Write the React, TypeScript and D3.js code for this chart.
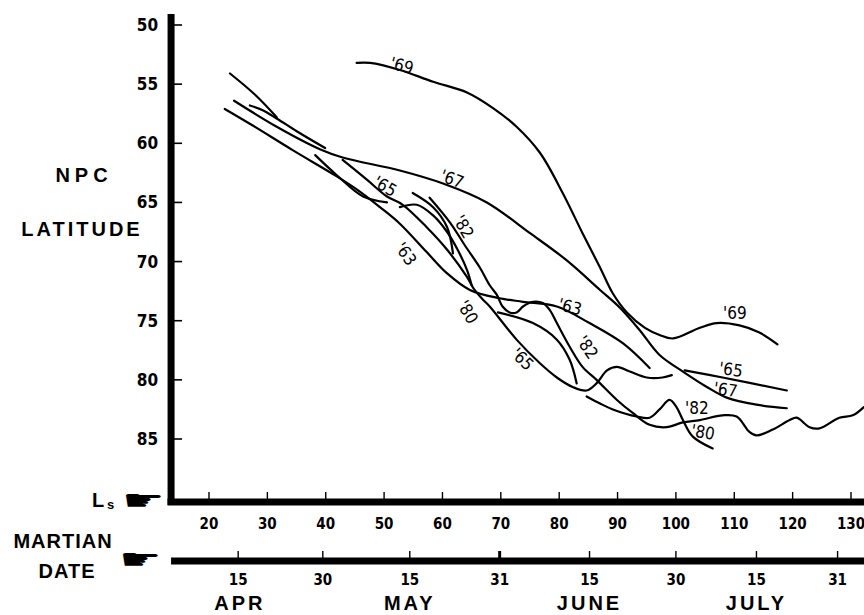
import React from "react";
import * as d3 from "d3";

// ---- axis data ----
const LAT_TICKS = [50, 55, 60, 65, 70, 75, 80, 85];
const LS_TICKS = [20, 30, 40, 50, 60, 70, 80, 90, 100, 110, 120, 130];
const DATE_LABELS = ["15", "30", "15", "31", "15", "30", "15", "31"];
const DATE_LS = [25.0, 39.5, 54.4, 69.8, 85.2, 100.0, 113.8, 127.7];
const MONTHS = ["APR", "MAY", "JUNE", "JULY"];
const MONTH_LS = [25.3, 54.4, 85.2, 113.8];

// ---- curves: [Ls, NPC latitude] ----
const Y69 = [[45.3,53.2],[47.6,53.2],[52.7,53.8],[58.4,54.8],[64.2,55.7],[68.6,57.0],[72.7,58.6],[76.7,60.8],[80.6,64.2],[84.0,67.6],[87.0,70.5],[89.2,72.7],[91.6,74.3],[94.7,75.6],[97.2,76.2],[99.5,76.5],[104.1,75.6],[107.0,75.2],[110.9,75.4],[114.3,76.0],[117.4,77.0]];
const Y67 = [[24.3,56.4],[31.6,58.6],[39.0,60.5],[42.9,61.2],[52.7,62.3],[60.1,63.4],[67.6,65.0],[75.0,67.6],[81.3,69.9],[87.0,72.4],[90.4,73.9],[93.8,75.8],[97.2,77.9],[101.2,79.3],[105.3,80.6],[108.7,81.5],[113.8,82.1],[119.0,82.4]];
const Y65_A = [[42.9,61.4],[47.1,63.1],[50.5,64.5],[53.2,65.2],[57.3,67.1],[60.8,69.0],[64.2,71.3],[65.5,72.4],[66.9,73.2],[68.1,73.8],[72.7,76.6],[76.7,78.6],[79.6,79.8],[82.3,80.6],[84.7,80.9],[86.4,80.3],[88.2,79.2],[89.9,78.9],[92.1,79.3],[95.0,79.8],[97.7,79.8],[99.3,79.6]];
const Y65_B = [[101.5,79.2],[108.0,79.8],[119.0,80.9]];
const Y63 = [[22.7,57.1],[27.5,58.5],[34.4,60.6],[41.9,62.8],[45.9,64.1],[49.3,65.4],[52.7,66.8],[57.3,69.2],[60.8,71.0],[64.7,72.4],[69.8,73.1],[73.8,73.4],[79.6,73.8],[85.2,75.2],[90.9,76.9],[95.5,79.0]];
const Y82 = [[57.8,64.6],[61.3,66.7],[63.8,68.6],[66.4,70.5],[68.1,72.0],[69.3,72.8],[70.3,73.8],[71.5,74.3],[72.7,74.3],[73.8,73.8],[75.5,73.4],[77.2,73.5],[78.4,74.1],[79.6,75.2],[81.8,77.2],[84.0,78.9],[86.4,80.0],[89.9,81.7],[92.6,82.8],[95.5,83.8],[98.4,84.0],[101.2,83.6],[104.1,83.4],[108.0,83.0],[110.4,83.1],[112.6,84.4],[113.8,84.7],[116.6,84.2],[119.5,83.4],[120.7,83.2],[122.9,84.0],[124.6,84.1],[128.0,83.2],[130.3,83.0],[132.2,82.3]];
const Y80_A = [[52.7,65.4],[55.6,65.2],[58.4,66.1],[60.8,67.5],[62.6,69.0],[64.2,70.7],[65.0,72.0]];
const Y80_B = [[69.5,74.3],[75.5,75.2],[79.6,76.6],[81.8,78.3],[83.0,80.3]];
const Y80_C = [[84.7,81.4],[87.0,82.0],[89.2,82.5],[93.3,83.1],[95.5,83.2],[97.2,82.5],[98.9,81.7],[100.1,82.3],[101.2,83.4],[102.9,84.8],[106.3,85.8]];
const SEG_UL1 = [[23.6,54.1],[27.9,55.9],[31.6,57.8]];
const SEG_UL2 = [[27.0,56.8],[29.2,57.2],[31.6,57.9],[35.1,59.0],[39.9,60.4]];
const SEG_MID = [[38.2,61.0],[41.9,62.7],[46.4,64.5],[50.5,65.0]];
const SEG_ARC = [[54.9,64.2],[58.4,65.4],[60.8,67.1],[61.8,69.3]];

const CURVES = [Y69, Y67, Y65_A, Y65_B, Y63, Y82, Y80_A, Y80_B, Y80_C, SEG_UL1, SEG_UL2, SEG_MID, SEG_ARC];

// labels: text, Ls, lat, rotation
const LABEL_TEXT = ["'69", "'67", "'65", "'82", "'63", "'80", "'63", "'65", "'82", "'69", "'65", "'67", "'82", "'80"];
const LABEL_LS = [53.0, 61.6, 50.1, 63.5, 53.6, 64.2, 81.8, 73.6, 84.7, 110.1, 109.4, 108.5, 103.6, 104.6];
const LABEL_LAT = [53.5, 63.1, 63.7, 67.1, 69.4, 74.3, 73.9, 78.3, 77.3, 74.4, 79.2, 80.9, 82.5, 84.5];
const LABEL_ROT = [15, 20, 30, 60, 55, 60, 15, 45, 55, 0, 8, 8, 0, 10];

const NARROW = "'Liberation Sans Narrow', 'DejaVu Sans Condensed', 'Roboto Condensed', sans-serif";
const WIDE = "'Liberation Sans', 'DejaVu Sans', sans-serif";

export default function App() {
  const W = 864, H = 615;
  const x = d3.scaleLinear().domain([20, 130]).range([209, 851]);
  const y = d3.scaleLinear().domain([50, 85]).range([25, 439]);
  const axisX = x(13.5);
  const lsY = 502;
  const dateY = 561;
  const line = d3.line<number[]>().x(d => x(d[0])).y(d => y(d[1])).curve(d3.curveCatmullRom.alpha(0.5));

  return (
    <svg width={W} height={H} style={{ position: "absolute", left: 0, top: 0, background: "#fff" }}>
      <rect x={0} y={0} width={W} height={H} fill="#fff" />
      {/* Y axis */}
      <line x1={axisX} x2={axisX} y1={14} y2={lsY + 3} stroke="#000" strokeWidth={7} />
      {LAT_TICKS.map(t => (
        <g key={"lt" + t}>
          <line x1={axisX} x2={axisX + 11} y1={y(t)} y2={y(t)} stroke="#000" strokeWidth={1.6} />
          <text x={axisX - 13} y={y(t) + 6} textAnchor="end" fontFamily={NARROW} fontSize={17} fontWeight="bold">{t}</text>
        </g>
      ))}
      <text x={84} y={182} textAnchor="middle" fontFamily={WIDE} fontSize={20} fontWeight="bold" letterSpacing={5}>NPC</text>
      <text x={82} y={236} textAnchor="middle" fontFamily={WIDE} fontSize={20} fontWeight="bold" letterSpacing={3}>LATITUDE</text>

      {/* Ls axis */}
      <line x1={axisX - 3.5} x2={W} y1={lsY} y2={lsY} stroke="#000" strokeWidth={7} />
      {LS_TICKS.map(t => (
        <g key={"ls" + t}>
          <line x1={x(t)} x2={x(t)} y1={lsY} y2={lsY - 10} stroke="#000" strokeWidth={1.4} />
          <text x={x(t)} y={529} textAnchor="middle" fontFamily={NARROW} fontSize={15} fontWeight="bold">{t}</text>
        </g>
      ))}
      <text x={92} y={507} fontFamily={WIDE} fontSize={20} fontWeight="bold">L</text>
      <text x={107} y={509} fontFamily={WIDE} fontSize={13} fontWeight="bold">s</text>
      <text transform="translate(122,510) scale(1.7,1)" fontFamily="'DejaVu Sans', sans-serif" fontSize={28}>☛</text>

      {/* Martian date axis */}
      <text x={63} y={548} textAnchor="middle" fontFamily={WIDE} fontSize={20} fontWeight="bold" letterSpacing={1}>MARTIAN</text>
      <text x={67} y={578} textAnchor="middle" fontFamily={WIDE} fontSize={20} fontWeight="bold" letterSpacing={1}>DATE</text>
      <text transform="translate(119,569) scale(1.7,1)" fontFamily="'DejaVu Sans', sans-serif" fontSize={28}>☛</text>
      <line x1={axisX} x2={W} y1={dateY} y2={dateY} stroke="#000" strokeWidth={7} />
      {DATE_LS.map((v, i) => (
        <g key={"dt" + i}>
          <line x1={x(v)} x2={x(v)} y1={dateY} y2={dateY - 10} stroke="#000" strokeWidth={i === 3 ? 3 : 1.4} />
          <text x={x(v)} y={585} textAnchor="middle" fontFamily={NARROW} fontSize={15} fontWeight="bold">{DATE_LABELS[i]}</text>
        </g>
      ))}
      {MONTHS.map((m, i) => (
        <text key={m} x={x(MONTH_LS[i])} y={610} textAnchor="middle" fontFamily={WIDE} fontSize={20} fontWeight="bold" letterSpacing={3}>{m}</text>
      ))}

      {/* curves */}
      {CURVES.map((c, i) => (
        <path key={"c" + i} d={line(c) || ""} fill="none" stroke="#000" strokeWidth={2.2} strokeLinecap="round" strokeLinejoin="round" />
      ))}
      {LABEL_TEXT.map((t, i) => (
        <text key={"lb" + i} transform={`translate(${x(LABEL_LS[i])},${y(LABEL_LAT[i])}) rotate(${LABEL_ROT[i]})`} textAnchor="middle" dominantBaseline="middle" fontFamily={NARROW} fontSize={17}>{t}</text>
      ))}
    </svg>
  );
}
